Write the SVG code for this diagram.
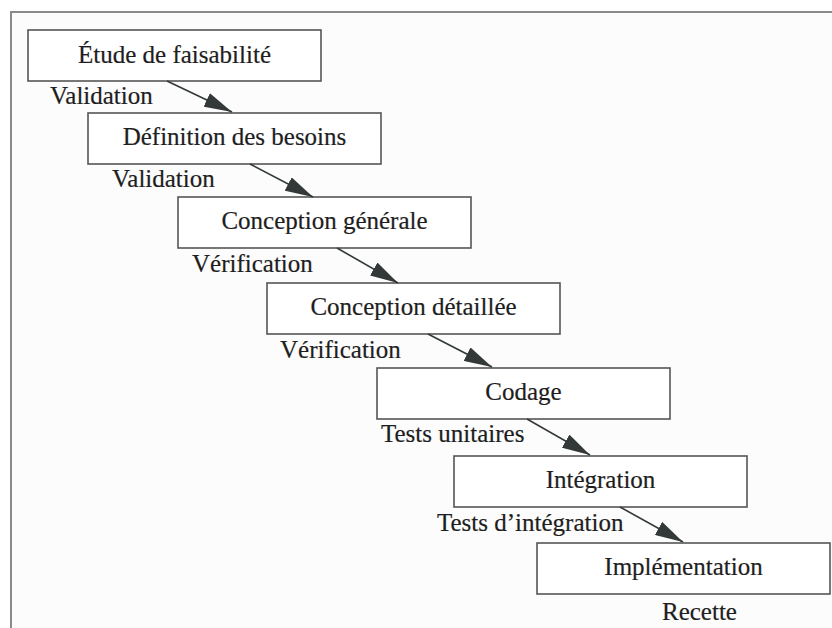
<svg xmlns="http://www.w3.org/2000/svg" width="832" height="628" viewBox="0 0 832 628">
  <style>
    .box { fill: #ffffff; stroke: #555555; stroke-width: 1.6; }
    .title { font-family: "Liberation Serif", "Times New Roman", serif; font-size: 25px; fill: #1e1e1e; stroke: #1e1e1e; stroke-width: 0.2; text-anchor: middle; }
    .lbl { font-family: "Liberation Serif", "Times New Roman", serif; font-size: 25px; fill: #1e1e1e; stroke: #1e1e1e; stroke-width: 0.2; }
    .flow { stroke: #333838; stroke-width: 1.6; fill: none; marker-end: url(#head); }
  </style>
  <defs>
    <marker id="head" markerUnits="userSpaceOnUse" markerWidth="28" markerHeight="15" refX="28" refY="7.5" orient="auto">
      <path d="M0,0 L28,7.5 L0,15 Z" fill="#333838"/>
    </marker>
  </defs>

  <!-- page background and frame -->
  <rect x="0" y="0" width="832" height="628" fill="#ffffff"/>
  <rect x="11" y="12" width="821" height="616" fill="#fcfcfc"/>
  <path d="M11,628 L11,12 L832,12" fill="none" stroke="#8a8a8a" stroke-width="2"/>

  <!-- phases -->
  <g id="etude">
    <rect class="box" x="28" y="30" width="293" height="51"/>
    <text class="title" x="174.5" y="63">Étude de faisabilité</text>
  </g>
  <g id="definition">
    <rect class="box" x="88" y="113" width="293" height="51"/>
    <text class="title" x="234.5" y="145">Définition des besoins</text>
  </g>
  <g id="conception-generale">
    <rect class="box" x="178" y="197" width="293" height="51"/>
    <text class="title" x="324.5" y="229">Conception générale</text>
  </g>
  <g id="conception-detaillee">
    <rect class="box" x="267" y="283" width="293" height="51"/>
    <text class="title" x="413.5" y="315">Conception détaillée</text>
  </g>
  <g id="codage">
    <rect class="box" x="377" y="368" width="293" height="51"/>
    <text class="title" x="523.5" y="400">Codage</text>
  </g>
  <g id="integration">
    <rect class="box" x="454" y="456" width="293" height="51"/>
    <text class="title" x="600.5" y="488">Intégration</text>
  </g>
  <g id="implementation">
    <rect class="box" x="537" y="543" width="293" height="51"/>
    <text class="title" x="683.5" y="575">Implémentation</text>
  </g>

  <!-- transitions between phases -->
  <g id="connectors">
    <line class="flow" x1="167" y1="81" x2="232" y2="112"/>
    <line class="flow" x1="250" y1="164" x2="313" y2="197"/>
    <line class="flow" x1="337" y1="248" x2="398" y2="283"/>
    <line class="flow" x1="428" y1="334" x2="492" y2="367"/>
    <line class="flow" x1="527" y1="419" x2="590" y2="455"/>
    <line class="flow" x1="620" y1="507" x2="683" y2="542"/>
  </g>

  <!-- checkpoint labels -->
  <g id="labels">
    <text class="lbl" x="50" y="104">Validation</text>
    <text class="lbl" x="112" y="187">Validation</text>
    <text class="lbl" x="192" y="272">Vérification</text>
    <text class="lbl" x="280" y="358">Vérification</text>
    <text class="lbl" x="381" y="442">Tests unitaires</text>
    <text class="lbl" x="437" y="531">Tests d’intégration</text>
    <text class="lbl" x="662" y="620">Recette</text>
  </g>
</svg>
